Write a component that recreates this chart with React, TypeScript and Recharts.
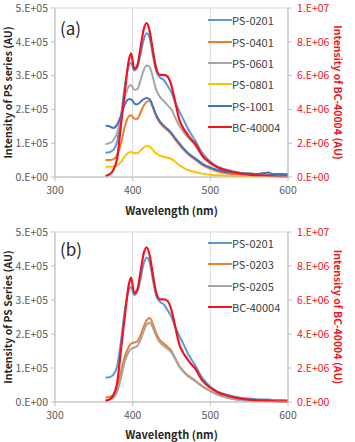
import React from "react";
import {
  LineChart,
  Line,
  XAxis,
  YAxis,
  CartesianGrid,
  Legend,
} from "recharts";

// Emission wavelength grid (nm)
const wavelengths = [
  365, 370, 375, 380, 385, 390, 395, 398, 402, 406, 410, 414, 418, 422, 426,
  430, 435, 440, 445, 450, 455, 460, 465, 470, 475, 480, 490, 500, 510, 520,
  530, 540, 550, 560, 575, 580, 590, 600,
];

// PS series intensities, in units of 1E+05
const ps0201 = [
  0.72, 0.73, 0.8, 1.05, 1.8, 2.7, 3.3, 3.38, 3.15, 3.25, 3.6, 4.05, 4.25, 4.1,
  3.6, 3.15, 2.95, 2.87, 2.7, 2.5, 2.2, 1.95, 1.72, 1.48, 1.28, 1.1, 0.7, 0.45,
  0.3, 0.22, 0.16, 0.12, 0.1, 0.08, 0.07, 0.06, 0.06, 0.05,
];
const ps0401 = [
  0.5, 0.5, 0.52, 0.65, 1.0, 1.5, 1.8, 1.83, 1.72, 1.72, 1.9, 2.1, 2.22, 2.25,
  2.05, 1.8, 1.6, 1.48, 1.38, 1.26, 1.1, 0.95, 0.82, 0.7, 0.6, 0.52, 0.35, 0.24,
  0.16, 0.11, 0.08, 0.06, 0.05, 0.04, 0.04, 0.03, 0.03, 0.03,
];
const ps0601 = [
  0.97, 1.0, 1.08, 1.3, 1.8, 2.35, 2.68, 2.72, 2.58, 2.6, 2.85, 3.15, 3.3, 3.25,
  2.95, 2.6, 2.37, 2.25, 2.12, 2.0, 1.75, 1.52, 1.35, 1.2, 1.08, 0.95, 0.62, 0.4,
  0.27, 0.18, 0.13, 0.1, 0.08, 0.06, 0.05, 0.05, 0.04, 0.04,
];
const ps0801 = [
  0.3, 0.3, 0.31, 0.35, 0.45, 0.62, 0.72, 0.74, 0.7, 0.7, 0.78, 0.87, 0.92, 0.9,
  0.8, 0.7, 0.63, 0.6, 0.57, 0.53, 0.45, 0.35, 0.28, 0.22, 0.18, 0.15, 0.1, 0.07,
  0.05, 0.04, 0.03, 0.03, 0.02, 0.02, 0.02, 0.02, 0.02, 0.02,
];
const ps1001 = [
  1.52, 1.5, 1.45, 1.55, 1.82, 2.15, 2.3, 2.3, 2.18, 2.15, 2.22, 2.3, 2.34, 2.3,
  2.1, 1.85, 1.65, 1.52, 1.42, 1.3, 1.14, 1.0, 0.86, 0.74, 0.64, 0.56, 0.39,
  0.28, 0.2, 0.15, 0.13, 0.11, 0.1, 0.09, 0.13, 0.09, 0.09, 0.08,
];
const ps0203 = [
  0.13, 0.15, 0.2, 0.4, 0.88, 1.35, 1.62, 1.72, 1.75, 1.78, 1.95, 2.2, 2.4, 2.47,
  2.3, 2.05, 1.82, 1.72, 1.62, 1.5, 1.28, 1.06, 0.92, 0.8, 0.72, 0.64, 0.46,
  0.33, 0.22, 0.14, 0.09, 0.06, 0.04, 0.03, 0.02, 0.02, 0.02, 0.02,
];
const ps0205 = [
  0.05, 0.07, 0.12, 0.3, 0.72, 1.2, 1.48, 1.56, 1.6, 1.65, 1.82, 2.07, 2.27,
  2.33, 2.18, 1.95, 1.75, 1.65, 1.56, 1.45, 1.25, 1.04, 0.9, 0.78, 0.7, 0.62,
  0.45, 0.32, 0.21, 0.14, 0.09, 0.06, 0.04, 0.03, 0.02, 0.02, 0.02, 0.02,
];

// BC-40004 intensities, in units of 1E+06 (right axis)
const bc40004 = [
  0.06, 0.15, 0.4, 1.1, 3.1, 5.1, 6.9, 7.32, 6.4, 6.6, 7.6, 8.7, 9.1, 8.6, 7.5,
  6.5, 6.04, 6.04, 5.94, 5.4, 4.4, 3.4, 2.9, 2.55, 2.25, 2.0, 1.24, 0.84, 0.56,
  0.4, 0.28, 0.2, 0.14, 0.1, 0.08, 0.06, 0.04, 0.04,
];

const xTicks = [300, 400, 500, 600];
const leftTicks = [0, 1e5, 2e5, 3e5, 4e5, 5e5];
const rightTicks = [0, 2e6, 4e6, 6e6, 8e6, 1e7];

const FONT = "'Noto Sans CJK KR', 'Open Sans', sans-serif";
const GRID = "#D9D9D9";
const AXIS = "#BFBFBF";
const RED = "#F0141E";

type Series = {
  key: string;
  name: string;
  color: string;
  values: number[];
  unit: number;
  axis: "left" | "right";
};

const panelA: Series[] = [
  { key: "ps0201", name: "PS-0201", color: "#5B9BD5", values: ps0201, unit: 1e5, axis: "left" },
  { key: "ps0401", name: "PS-0401", color: "#ED7D31", values: ps0401, unit: 1e5, axis: "left" },
  { key: "ps0601", name: "PS-0601", color: "#A5A5A5", values: ps0601, unit: 1e5, axis: "left" },
  { key: "ps0801", name: "PS-0801", color: "#FFC000", values: ps0801, unit: 1e5, axis: "left" },
  { key: "ps1001", name: "PS-1001", color: "#4472C4", values: ps1001, unit: 1e5, axis: "left" },
  { key: "bc40004", name: "BC-40004", color: RED, values: bc40004, unit: 1e6, axis: "right" },
];

const panelB: Series[] = [
  { key: "ps0201", name: "PS-0201", color: "#5B9BD5", values: ps0201, unit: 1e5, axis: "left" },
  { key: "ps0203", name: "PS-0203", color: "#ED7D31", values: ps0203, unit: 1e5, axis: "left" },
  { key: "ps0205", name: "PS-0205", color: "#A5A5A5", values: ps0205, unit: 1e5, axis: "left" },
  { key: "bc40004", name: "BC-40004", color: RED, values: bc40004, unit: 1e6, axis: "right" },
];

// Excel-style "1.E+05" labels
const sci = (v: number) => {
  if (v === 0) return "0.E+00";
  const e = Math.floor(Math.log10(v) + 1e-9);
  const m = Math.round(v / Math.pow(10, e));
  return `${m}.E+${String(e).padStart(2, "0")}`;
};

const buildRows = (series: Series[]) =>
  wavelengths.map((w, i) => {
    const row: Record<string, number> = { w };
    series.forEach((s) => {
      row[s.key] = s.values[i] * s.unit;
    });
    return row;
  });

// keeps the legend in series order (recharts sorts by name otherwise)
const LegendBox = ({ payload, order }: any) => {
  const items = [...(payload || [])].sort(
    (a: any, b: any) => order.indexOf(a.value) - order.indexOf(b.value)
  );
  return (
    <div style={{ fontFamily: FONT, fontSize: 11, color: "#404040" }}>
      {items.map((p: any) => (
        <div
          key={p.value}
          style={{ display: "flex", alignItems: "center", height: 21.4 }}
        >
          <span
            style={{ width: 24, height: 2, background: p.color, display: "block" }}
          />
          <span>{p.value}</span>
        </div>
      ))}
    </div>
  );
};

type PanelProps = {
  series: Series[];
  tag: string;
  yTitle: string;
  top: number;
  xAxisHeight: number;
  xLabelOffset: number;
  legendTop: number;
  tagTop: number;
};

function Panel({
  series,
  tag,
  yTitle,
  top,
  xAxisHeight,
  xLabelOffset,
  legendTop,
  tagTop,
}: PanelProps) {
  const rows = buildRows(series);
  const tickStyle = { fill: "#595959", fontSize: 10.5, fontFamily: FONT };
  return (
    <div style={{ position: "relative", width: 355, height: 221 }}>
      <LineChart
        width={355}
        height={221}
        data={rows}
        margin={{ top, right: 0, bottom: 0, left: 0 }}
      >
        <CartesianGrid stroke={GRID} strokeWidth={1} />
        <XAxis
          dataKey="w"
          type="number"
          domain={[300, 600]}
          ticks={xTicks}
          height={xAxisHeight}
          tick={tickStyle}
          tickSize={4}
          tickMargin={6}
          stroke={AXIS}
          label={{
            value: "Wavelength (nm)",
            position: "insideBottom",
            offset: xLabelOffset,
            style: { fontFamily: FONT, fontSize: 11, fontWeight: 700, fill: "#262626" },
          }}
        />
        <YAxis
          yAxisId="left"
          domain={[0, 5e5]}
          ticks={leftTicks}
          tickFormatter={sci}
          width={55}
          tick={tickStyle}
          tickSize={4}
          tickMargin={3}
          stroke={AXIS}
          label={{
            value: yTitle,
            angle: -90,
            position: "insideLeft",
            offset: 8,
            style: {
              textAnchor: "middle",
              fontFamily: FONT,
              fontSize: 10.5,
              fontWeight: 700,
              fill: "#262626",
            },
          }}
        />
        <YAxis
          yAxisId="right"
          orientation="right"
          domain={[0, 1e7]}
          ticks={rightTicks}
          tickFormatter={sci}
          width={67}
          tick={{ ...tickStyle, fill: RED }}
          tickSize={4}
          tickMargin={5}
          stroke={AXIS}
          label={{
            value: "Intensity of BC-40004 (AU)",
            angle: 90,
            position: "insideRight",
            offset: 17,
            style: {
              textAnchor: "middle",
              fontFamily: FONT,
              fontSize: 10.5,
              fontWeight: 700,
              fill: RED,
            },
          }}
        />
        <Legend
          layout="vertical"
          align="center"
          verticalAlign="middle"
          wrapperStyle={{ top: legendTop, left: 208, width: "auto" }}
          content={<LegendBox order={series.map((s) => s.name)} />}
        />
        {series.map((s) => (
          <Line
            key={s.key}
            yAxisId={s.axis}
            dataKey={s.key}
            name={s.name}
            type="monotone"
            stroke={s.color}
            strokeWidth={s.axis === "right" ? 2.2 : 2}
            dot={false}
            isAnimationActive={false}
          />
        ))}
      </LineChart>
      <div
        style={{
          position: "absolute",
          left: 60,
          top: tagTop,
          fontFamily: FONT,
          fontSize: 17,
          lineHeight: 1,
          color: "#262626",
        }}
      >
        {tag}
      </div>
    </div>
  );
}

export default function App() {
  return (
    <div
      style={{
        position: "absolute",
        left: 0,
        top: 0,
        width: 355,
        height: 442,
        background: "#fff",
      }}
    >
      <Panel
        series={panelA}
        tag="(a)"
        yTitle="Intensity of PS series (AU)"
        top={8}
        xAxisHeight={44}
        xLabelOffset={6}
        legendTop={9.5}
        tagTop={19}
      />
      <Panel
        series={panelB}
        tag="(b)"
        yTitle="Intensity of PS Series (AU)"
        top={11}
        xAxisHeight={40}
        xLabelOffset={3}
        legendTop={11.3}
        tagTop={19}
      />
    </div>
  );
}
